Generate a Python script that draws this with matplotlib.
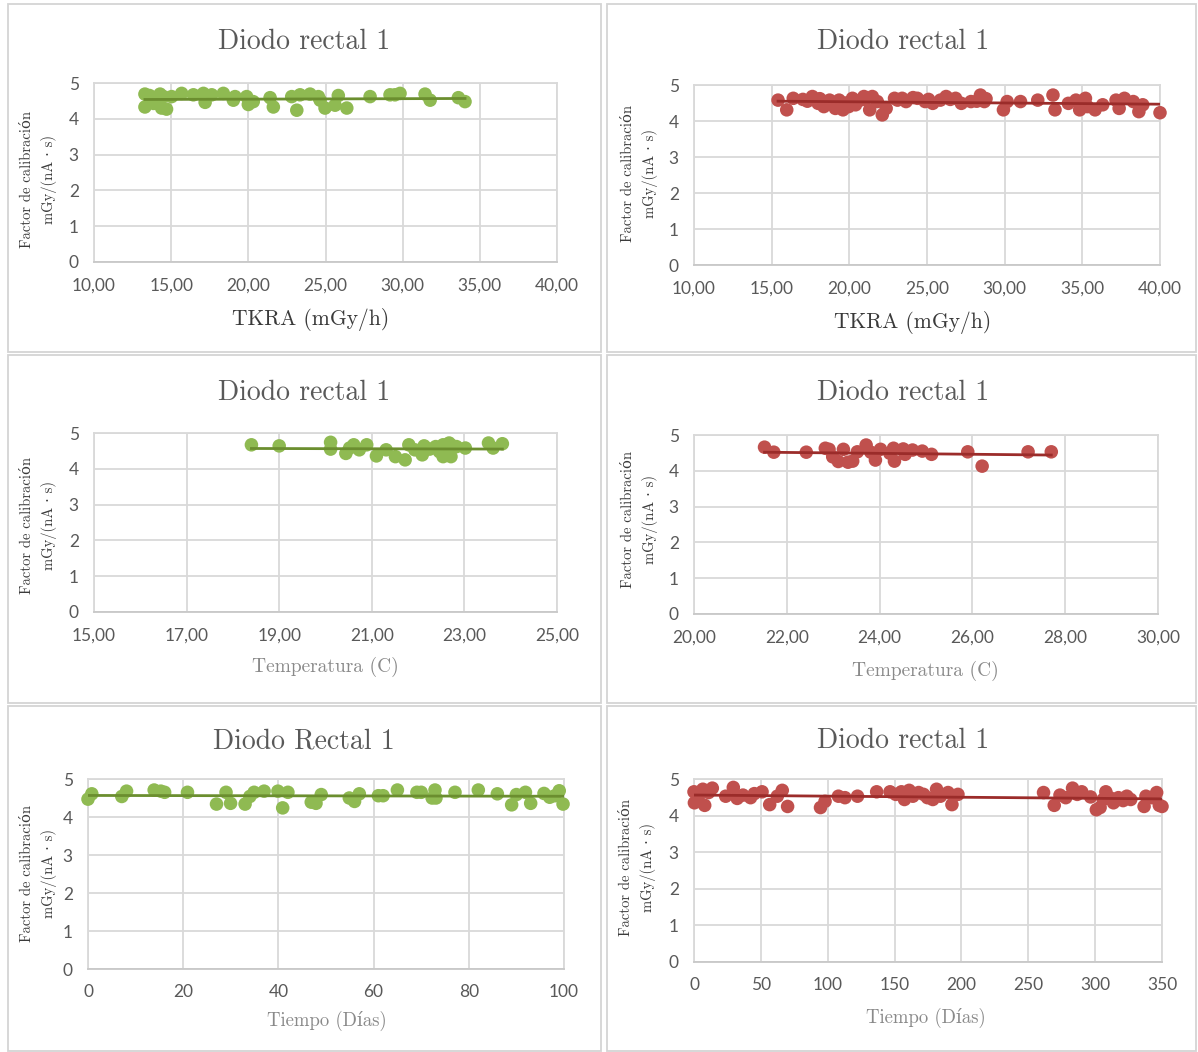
import numpy as np
import matplotlib
matplotlib.use("Agg")
import matplotlib.pyplot as plt
from matplotlib.ticker import FuncFormatter, FixedLocator
from matplotlib.patches import Rectangle

# --- datos ---
# TKRA (mGy/h), serie verde
tkra_v = [13.3, 13.3, 13.6, 13.85, 14.0, 14.28, 14.38, 14.5, 14.7, 15.03, 15.68, 16.44, 17.09, 17.2,
          17.63, 18.38, 19.03, 19.14, 19.89, 20.0, 20.32, 21.41, 21.62, 22.81, 23.14, 23.35, 24.0,
          24.54, 24.65, 24.97, 25.62, 25.83, 26.38, 27.89, 29.18, 29.5, 29.83, 31.45, 31.78, 33.61, 34.04]
fc_tkra_v = [4.69, 4.33, 4.65, 4.43, 4.55, 4.69, 4.30, 4.62, 4.27, 4.62, 4.71, 4.67, 4.71, 4.46,
             4.67, 4.71, 4.52, 4.62, 4.62, 4.40, 4.48, 4.59, 4.33, 4.62, 4.24, 4.67, 4.69,
             4.62, 4.52, 4.30, 4.38, 4.65, 4.30, 4.62, 4.67, 4.67, 4.71, 4.69, 4.52, 4.59, 4.48]

# TKRA (mGy/h), serie roja
tkra_r = [15.41, 15.97, 16.39, 17.01, 17.3, 17.62, 17.99, 18.1, 18.36, 18.6, 18.73, 18.97, 19.1, 19.34,
          19.59, 19.8, 19.96, 20.2, 20.4, 20.7, 20.94, 21.0, 21.31, 21.48, 21.8, 22.12, 22.37, 22.91,
          23.1, 23.4, 23.65, 24.1, 24.38, 24.88, 25.1, 25.37, 25.86, 26.23, 26.5, 26.84, 27.21, 27.83,
          28.2, 28.44, 28.69, 28.8, 29.92, 30.16, 31.02, 32.13, 33.11, 33.24, 34.1, 34.59, 34.83,
          35.2, 35.33, 35.82, 36.31, 37.17, 37.37, 37.71, 38.28, 38.64, 38.89, 40.0]
fc_tkra_r = [4.58, 4.31, 4.63, 4.60, 4.55, 4.68, 4.49, 4.62, 4.40, 4.48, 4.58, 4.45, 4.35, 4.58,
             4.31, 4.50, 4.40, 4.63, 4.45, 4.58, 4.68, 4.60, 4.31, 4.68, 4.54, 4.17, 4.35, 4.63,
             4.58, 4.63, 4.54, 4.65, 4.63, 4.54, 4.60, 4.49, 4.58, 4.68, 4.60, 4.63, 4.49, 4.54,
             4.55, 4.72, 4.54, 4.62, 4.31, 4.54, 4.54, 4.58, 4.72, 4.31, 4.49, 4.58, 4.31,
             4.63, 4.40, 4.31, 4.45, 4.58, 4.35, 4.63, 4.54, 4.26, 4.45, 4.23]

# Temperatura (C), serie verde
temp_v = [18.40, 19.0, 20.11, 20.11, 20.44, 20.52, 20.61, 20.73, 20.89, 21.10, 21.31, 21.51, 21.72,
          21.80, 21.93, 22.09, 22.13, 22.25, 22.38, 22.46, 22.54, 22.54, 22.63, 22.67, 22.71, 22.75,
          22.83, 23.02, 23.52, 23.62, 23.82]
fc_temp_v = [4.67, 4.64, 4.74, 4.55, 4.43, 4.58, 4.67, 4.53, 4.67, 4.36, 4.53, 4.34, 4.25,
             4.67, 4.53, 4.39, 4.64, 4.55, 4.62, 4.48, 4.67, 4.34, 4.53, 4.72, 4.34, 4.64,
             4.62, 4.58, 4.72, 4.58, 4.70]

# Temperatura (C), serie roja
temp_r = [21.52, 21.72, 22.42, 22.83, 22.91, 22.99, 23.11, 23.22, 23.32, 23.42, 23.52, 23.71, 23.81,
          23.91, 24.02, 24.22, 24.30, 24.32, 24.51, 24.55, 24.71, 24.92, 25.12, 25.90, 26.21, 27.20, 27.70]
fc_temp_r = [4.66, 4.52, 4.52, 4.63, 4.60, 4.39, 4.26, 4.60, 4.24, 4.27, 4.53, 4.72, 4.52,
             4.30, 4.60, 4.49, 4.63, 4.27, 4.61, 4.46, 4.58, 4.55, 4.46, 4.53, 4.13, 4.53, 4.53]

# Tiempo (Dias), serie verde
dias_v = [0, 0.8, 7.1, 8.1, 13.9, 15.3, 16.1, 20.9, 27.0, 29.0, 29.95, 33.0, 34.0, 34.9, 37.0, 39.9,
          40.9, 42.0, 46.9, 47.9, 49.0, 54.9, 56.0, 57.0, 61.0, 62.0, 65.0, 69.1, 70.0, 72.3, 72.9,
          73.1, 77.1, 82.0, 86.0, 89.0, 90.0, 91.9, 93.0, 95.8, 97.0, 98.1, 99.0, 99.8]
fc_dias_v = [4.47, 4.61, 4.54, 4.68, 4.71, 4.68, 4.65, 4.65, 4.34, 4.65, 4.36, 4.34, 4.54, 4.65, 4.68, 4.68,
             4.24, 4.65, 4.39, 4.36, 4.59, 4.50, 4.41, 4.61, 4.56, 4.56, 4.71, 4.65, 4.65, 4.50, 4.71,
             4.50, 4.65, 4.71, 4.61, 4.32, 4.59, 4.65, 4.36, 4.62, 4.52, 4.56, 4.69, 4.34]

# Tiempo (Dias), serie roja
dias_r = [0, 0.3, 3.1, 6.6, 8.0, 10.9, 13.7, 23.7, 29.4, 32.3, 36.6, 42.3, 45.1, 50.9, 56.6, 62.3,
          66.0, 70.0, 94.6, 98.0, 108, 112.9, 122.3, 136.6, 146.6, 150.9, 155.1, 157.4, 160.9, 163.7,
          168.0, 171.7, 174.6, 178.6, 181.4, 184.3, 190.0, 192.9, 197.4, 261.4, 269.4, 273.7, 278,
          283.1, 286.6, 290, 296.6, 300.9, 303.7, 306, 308, 310.9, 313.7, 317.4, 320.9, 323.7, 326.6,
          336.6, 338, 342.3, 346, 348, 350]
fc_dias_r = [4.65, 4.35, 4.49, 4.72, 4.28, 4.63, 4.75, 4.53, 4.77, 4.47, 4.56, 4.49, 4.60, 4.65, 4.30, 4.53,
             4.69, 4.25, 4.22, 4.39, 4.53, 4.49, 4.53, 4.65, 4.65, 4.58, 4.65, 4.44, 4.69, 4.53,
             4.63, 4.58, 4.49, 4.44, 4.72, 4.53, 4.63, 4.30, 4.58, 4.63, 4.28, 4.56, 4.49,
             4.75, 4.58, 4.65, 4.51, 4.16, 4.22, 4.44, 4.65, 4.49, 4.35, 4.49, 4.41, 4.53, 4.44,
             4.25, 4.53, 4.49, 4.63, 4.28, 4.25]

# marcas del eje x de cada grafico
ticks_tkra = [10, 15, 20, 25, 30, 35, 40]
ticks_temp_v = [15, 17, 19, 21, 23, 25]
ticks_temp_r = [20, 22, 24, 26, 28, 30]
ticks_dias_v = [0, 20, 40, 60, 80, 100]
ticks_dias_r = [0, 50, 100, 150, 200, 250, 300, 350]

titulos = ["Diodo rectal 1", "Diodo rectal 1", "Diodo rectal 1", "Diodo rectal 1",
           "Diodo Rectal 1", "Diodo rectal 1"]
ylab = "Factor de calibración\nmGy/(nA · s)"

VERDE, VERDE_L = "#8FBA52", "#6B8E2F"
ROJO, ROJO_L = "#C0504D", "#9B2C2A"
W, H = 1198, 1052

fig = plt.figure(figsize=(W / 100, H / 100), dpi=100)
fig.patch.set_facecolor("white")

SERIF = ["cmr10", "DejaVu Serif"]
SANS = ["Lato", "DejaVu Sans"]

def px(x, y):
    return x / W, 1 - y / H

# marcos de cada grafico
for (x0, x1) in [(8, 601), (607, 1196)]:
    for (y0, y1) in [(4, 352), (355, 703), (706, 1051)]:
        fig.patches.append(Rectangle((x0 / W, 1 - y1 / H), (x1 - x0) / W, (y1 - y0) / H,
                                     transform=fig.transFigure, fill=False,
                                     edgecolor="#d4d4d4", linewidth=1.3))

coma = FuncFormatter(lambda v, p: f"{v:.2f}".replace(".", ","))
entero = FuncFormatter(lambda v, p: f"{v:.0f}")

paneles = [
    (tkra_v, fc_tkra_v, VERDE, VERDE_L, (94, 557, 83, 262), ticks_tkra, coma,
     "TKRA (mGy/h)", 15.5, "#3a3a3a", (304, 42), (311, 320), (28, 50, 180)),
    (tkra_r, fc_tkra_r, ROJO, ROJO_L, (694, 1160, 85, 265), ticks_tkra, coma,
     "TKRA (mGy/h)", 15.5, "#3a3a3a", (903, 42), (913, 323), (628, 652, 173)),
    (temp_v, fc_temp_v, VERDE, VERDE_L, (94, 557, 433, 612), ticks_temp_v, coma,
     "Temperatura (C)", 14, "#8a8a8a", (304, 393), (325, 667), (28, 50, 525)),
    (temp_r, fc_temp_r, ROJO, ROJO_L, (694, 1158, 435, 614), ticks_temp_r, coma,
     "Temperatura (C)", 14, "#8a8a8a", (903, 393), (925, 671), (628, 652, 520)),
    (dias_v, fc_dias_v, VERDE, VERDE_L, (88, 564, 779, 969), ticks_dias_v, entero,
     "Tiempo (Días)", 13.5, "#8a8a8a", (304, 741), (327, 1021), (28, 50, 873)),
    (dias_r, fc_dias_r, ROJO, ROJO_L, (694, 1162, 779, 962), ticks_dias_r, entero,
     "Tiempo (Días)", 13.5, "#8a8a8a", (903, 741), (926, 1018), (626, 650, 868)),
]

for i, (xs, ys, col, col_l, r, xt, fmt, xl, xls, xlc, tpos, xlpos, ylpos) in enumerate(paneles):
    xl0, xl1, yt, yb = r
    ax = fig.add_axes([xl0 / W, 1 - yb / H, (xl1 - xl0) / W, (yb - yt) / H])
    ax.set_xlim(xt[0], xt[-1])
    ax.set_ylim(0, 5)
    ax.xaxis.set_major_locator(FixedLocator(xt))
    ax.yaxis.set_major_locator(FixedLocator([0, 1, 2, 3, 4, 5]))
    ax.xaxis.set_major_formatter(fmt)
    ax.grid(True, color="#d9d9d9", linewidth=1.3)
    ax.set_axisbelow(True)
    for s in ax.spines.values():
        s.set_color("#d9d9d9")
        s.set_linewidth(1.3)
    ax.spines["bottom"].set_color("#c8c8c8")
    ax.tick_params(length=0, pad=11, labelsize=12.5, labelcolor="#595959")
    for lab in ax.get_xticklabels() + ax.get_yticklabels():
        lab.set_family(SANS)

    ax.scatter(xs, ys, s=95, color=col, edgecolors="none", zorder=3, clip_on=False)
    m, b = np.polyfit(xs, ys, 1)
    xx = np.array([min(xs), max(xs)])
    ax.plot(xx, m * xx + b, color=col_l, linewidth=2.0, zorder=4)

    fig.text(*px(*tpos), titulos[i], ha="center", va="center", fontsize=20,
             color="#595959", family=SERIF)
    fig.text(*px(*xlpos), xl, ha="center", va="center", fontsize=xls,
             color=xlc, family=SERIF)
    x1, x2, yc = ylpos
    fig.text(*px((x1 + x2) / 2, yc), ylab, ha="center", va="center", rotation=90,
             fontsize=10.5, color="#3a3a3a", family=SERIF, multialignment="center",
             linespacing=1.6)

fig.savefig("out.png", dpi=100, facecolor="white")
